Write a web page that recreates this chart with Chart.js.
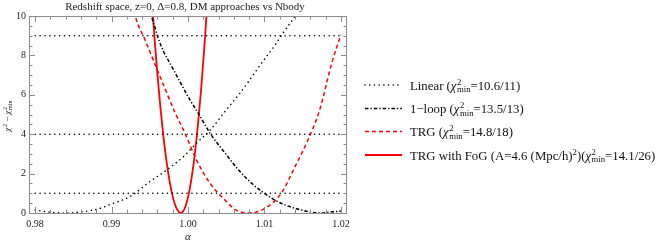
<!DOCTYPE html>
<html>
<head>
<meta charset="utf-8">
<script src="https://cdn.jsdelivr.net/npm/chart.js@4.4.1/dist/chart.umd.min.js"></script>
<style>
  body { margin: 0; background: #fff; }
  canvas { display: block; }
</style>
</head>
<body>
<canvas id="chartCanvas" width="664" height="243"></canvas>
<script>
// values
const xTicks = [0.98, 0.99, 1.00, 1.01, 1.02];
const yTicks = [0, 2, 4, 6, 8, 10];
const levels = [1, 4, 9];

const alphaLinear = [0.9800, 0.9820, 0.9837, 0.9863, 0.9885, 0.9902, 0.9924, 0.9950, 0.9972, 0.9994,
  1.0011, 1.0029, 1.0050, 1.0066, 1.0079, 1.0096, 1.0114, 1.0127, 1.0138, 1.0146];
const chiLinear = [0.15, 0.04, 0.0, 0.07, 0.24, 0.49, 0.83, 1.59, 2.18, 2.86,
  3.54, 4.21, 5.23, 5.99, 6.66, 7.6, 8.53, 9.29, 9.88, 10.4];

const alphaLoop = [0.9950, 0.99525, 0.9957, 0.9960, 0.9968, 0.99764, 0.99895, 1.00026, 1.00135, 1.00288,
  1.00506, 1.00647, 1.00833, 1.01094, 1.01269, 1.01487, 1.01704, 1.01923, 1.0200];
const chiLoop = [10.8, 10.0, 9.4, 9.0, 8.2, 7.6, 6.66, 5.74, 5.06, 4.05,
  2.94, 2.25, 1.51, 0.75, 0.41, 0.15, 0.0, 0.07, 0.1];

const alphaTRG = [0.9928, 0.9931, 0.9944, 0.9957, 0.9970, 0.9983, 0.9996, 1.0011, 1.0029, 1.0046,
  1.0063, 1.0079, 1.0100, 1.0122, 1.0140, 1.0155, 1.0172, 1.0188, 1.0200];
const chiTRG = [10.6, 10.0, 8.77, 7.53, 6.3, 5.1, 4.05, 2.7, 1.5, 0.75,
  0.15, 0.0, 0.22, 1.0, 2.35, 3.55, 5.2, 7.6, 9.05];

const alphaFoG = [0.9952, 0.9956, 0.9960, 0.9964, 0.9968, 0.9972, 0.9976, 0.9980, 0.9984, 0.9988,
  0.99905, 0.9993, 0.9997, 1.0001, 1.0005, 1.0009, 1.0013, 1.0017, 1.0021, 1.0025];
const chiFoG = [11.2, 9.0, 7.04, 5.32, 3.83, 2.59, 1.59, 0.83, 0.32, 0.05,
  0.0, 0.055, 0.37, 0.97, 1.86, 3.02, 4.47, 6.2, 8.22, 10.5];

const RED = 'rgb(255,0,0)';
const SERIF = '"Liberation Serif", "DejaVu Serif", serif';
const DOTS = [0.1, 4.6];
const DASHDOT = [3.5, 2, 1.3, 2];
const DASHES = [4, 3];

function zip(xs, ys) {
  return xs.map((x, i) => ({ x: x, y: ys[i] }));
}

// text with italic chi and stacked sup/sub
function drawRich(ctx, x, y, parts, size, dry) {
  const x0 = x;
  parts.forEach(p => {
    if (typeof p === 'string') {
      ctx.font = size + 'px ' + SERIF;
      if (!dry) ctx.fillText(p, x, y);
      x += ctx.measureText(p).width;
    } else if (p.i) {
      ctx.font = 'italic ' + size + 'px ' + SERIF;
      if (!dry) ctx.fillText(p.i, x, y);
      x += ctx.measureText(p.i).width + 0.5;
    } else if (p.ss) {
      const s = size * 0.68;
      ctx.font = s + 'px ' + SERIF;
      const w1 = ctx.measureText(p.ss[0]).width;
      const w2 = ctx.measureText(p.ss[1]).width;
      if (!dry) {
        ctx.fillText(p.ss[0], x, y - size * 0.38);
        ctx.fillText(p.ss[1], x, y + size * 0.22);
      }
      x += Math.max(w1, w2);
    }
  });
  return x - x0;
}

const chiMin = [{ i: 'χ' }, { ss: ['2', 'min'] }];
const legendItems = [
  { label: ['Linear ('].concat(chiMin, ['=10.6/11)']), color: '#000', dash: DOTS, width: 1.5, cap: 'round' },
  { label: ['1\u2212loop ('].concat(chiMin, ['=13.5/13)']), color: '#000', dash: DASHDOT, width: 1.5, cap: 'butt' },
  { label: ['TRG ('].concat(chiMin, ['=14.8/18)']), color: RED, dash: DASHES, width: 1.5, cap: 'butt' },
  { label: ['TRG with FoG (A=4.6 (Mpc/h)', { ss: ['2', ''] }, ')('].concat(chiMin, ['=14.1/26)']), color: RED, dash: [], width: 1.8, cap: 'butt' }
];
const legendRows = [85, 108.5, 131.5, 155];

const framePlugin = {
  id: 'framePlugin',
  afterDraw(chart) {
    const ctx = chart.ctx;
    const a = chart.chartArea;
    const xs = chart.scales.x;
    const ys = chart.scales.y;
    ctx.save();
    ctx.strokeStyle = '#8c8c8c';
    ctx.lineWidth = 1;
    ctx.setLineDash([]);
    ctx.strokeRect(a.left + 0.5, a.top + 0.5, a.right - a.left - 1, a.bottom - a.top);
    ctx.beginPath();
    // x ticks, major every 0.01 and minor every 0.002
    for (let k = 0; k <= 20; k++) {
      const v = 0.98 + k * 0.002;
      const px = Math.round(xs.getPixelForValue(v)) + 0.5;
      const len = k % 5 === 0 ? 6 : 3.5;
      ctx.moveTo(px, a.bottom); ctx.lineTo(px, a.bottom - len);
      ctx.moveTo(px, a.top); ctx.lineTo(px, a.top + len);
    }
    // y ticks, major every 2 and minor every 0.5
    for (let k = 0; k <= 20; k++) {
      const v = k * 0.5;
      const py = Math.round(ys.getPixelForValue(v)) + 0.5;
      const len = k % 4 === 0 ? 6 : 3.5;
      ctx.moveTo(a.left, py); ctx.lineTo(a.left + len, py);
      ctx.moveTo(a.right, py); ctx.lineTo(a.right - len, py);
    }
    ctx.stroke();

    // title
    ctx.fillStyle = '#222';
    ctx.textBaseline = 'middle';
    ctx.textAlign = 'center';
    ctx.font = '11px ' + SERIF;
    ctx.fillText('Redshift space, z=0, \u0394=0.8, DM approaches vs Nbody', (a.left + a.right) / 2 - 3, 7);

    // axis titles
    ctx.font = 'italic 11px ' + SERIF;
    ctx.fillText('\u03b1', (a.left + a.right) / 2, 237);
    ctx.textAlign = 'left';
    ctx.textBaseline = 'alphabetic';
    const yParts = [{ i: 'χ' }, { ss: ['2', ''] }, ' \u2212 ', { i: 'χ' }, { ss: ['2', 'min'] }];
    ctx.save();
    ctx.translate(10, 116);
    ctx.rotate(-Math.PI / 2);
    const w = drawRich(ctx, 0, 0, yParts, 9, true);
    drawRich(ctx, -w / 2, 0, yParts, 9, false);
    ctx.restore();

    // legend
    legendItems.forEach((it, i) => {
      const yy = legendRows[i];
      ctx.beginPath();
      ctx.strokeStyle = it.color;
      ctx.lineWidth = it.width;
      ctx.lineCap = it.cap;
      ctx.setLineDash(it.dash);
      ctx.moveTo(365, yy); ctx.lineTo(402, yy);
      ctx.stroke();
      ctx.setLineDash([]);
      ctx.lineCap = 'butt';
      ctx.fillStyle = '#111';
      drawRich(ctx, 410, yy + 4.5, it.label, 12.8, false);
    });
    ctx.restore();
  }
};

const datasets = levels.map(l => ({
  data: [{ x: 0.98, y: l }, { x: 1.02, y: l }],
  borderColor: '#000', borderWidth: 1.5, borderDash: [0.1, 4.8], borderCapStyle: 'round'
}));
datasets.push(
  { data: zip(alphaLinear, chiLinear), borderColor: '#000', borderWidth: 1.5, borderDash: DOTS, borderCapStyle: 'round' },
  { data: zip(alphaLoop, chiLoop), borderColor: '#000', borderWidth: 1.5, borderDash: DASHDOT, borderCapStyle: 'butt' },
  { data: zip(alphaTRG, chiTRG), borderColor: RED, borderWidth: 1.5, borderDash: DASHES },
  { data: zip(alphaFoG, chiFoG), borderColor: RED, borderWidth: 1.8 }
);
datasets.forEach(d => {
  d.pointRadius = 0;
  d.fill = false;
  d.clip = 0;
  d.cubicInterpolationMode = 'monotone';
});

const ctx = document.getElementById('chartCanvas').getContext('2d');
const chart = new Chart(ctx, {
  type: 'line',
  data: { datasets: datasets },
  options: {
    responsive: false,
    animation: false,
    events: [],
    layout: { padding: { left: 0, right: 317, top: 16, bottom: 0 } },
    plugins: { legend: { display: false }, tooltip: { enabled: false }, title: { display: false } },
    scales: {
      x: {
        type: 'linear',
        min: 0.9792,
        max: 1.0208,
        grid: { display: false, drawTicks: false },
        border: { display: false },
        afterBuildTicks: s => { s.ticks = xTicks.map(v => ({ value: v })); },
        afterFit: s => { s.height = 30; },
        ticks: {
          padding: 5,
          color: '#222',
          font: { family: SERIF, size: 10 },
          maxRotation: 0,
          callback: v => v.toFixed(2)
        }
      },
      y: {
        min: 0,
        max: 10,
        grid: { display: false, drawTicks: false },
        border: { display: false },
        afterBuildTicks: s => { s.ticks = yTicks.map(v => ({ value: v })); },
        afterFit: s => { s.width = 29; },
        ticks: {
          padding: 3,
          color: '#222',
          font: { family: SERIF, size: 10 },
          callback: v => String(v)
        }
      }
    }
  },
  plugins: [framePlugin]
});
</script>
</body>
</html>
